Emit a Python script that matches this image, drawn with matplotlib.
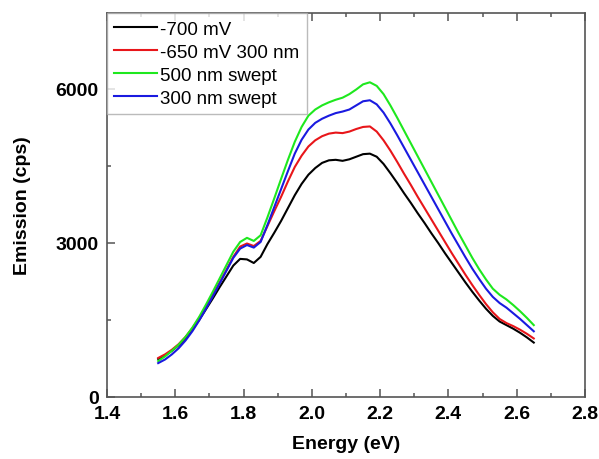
import numpy as np
import matplotlib.pyplot as plt
from matplotlib.ticker import MultipleLocator

plt.rcParams['font.family'] = ['Liberation Sans', 'DejaVu Sans']

# energy grid (eV)
energy = np.round(np.arange(1.55, 2.651, 0.02), 2)

black_700mv = [740, 810, 900, 1010, 1140, 1310, 1500, 1710, 1920, 2140,
               2350, 2560, 2690, 2680, 2610, 2730, 2980, 3200, 3430, 3680,
               3930, 4150, 4330, 4460, 4560, 4610, 4620, 4600, 4630, 4680,
               4730, 4740, 4680, 4540, 4360, 4170, 3970, 3780, 3580, 3390,
               3190, 3000, 2800, 2610, 2420, 2230, 2050, 1880, 1720, 1580,
               1470, 1400, 1330, 1250, 1160, 1060]

red_650mv = [760, 830, 920, 1030, 1170, 1340, 1540, 1760, 1990, 2230,
             2480, 2730, 2930, 2990, 2940, 3040, 3330, 3620, 3900, 4200,
             4480, 4700, 4880, 5000, 5080, 5130, 5150, 5140, 5170, 5220,
             5260, 5270, 5170, 5000, 4800, 4580, 4350, 4130, 3900, 3680,
             3460, 3240, 3020, 2800, 2590, 2380, 2180, 1990, 1810, 1650,
             1520, 1440, 1380, 1310, 1230, 1140]

green_500nm = [700, 790, 900, 1020, 1170, 1350, 1560, 1800, 2050, 2310,
               2570, 2830, 3020, 3100, 3040, 3150, 3500, 3870, 4250, 4620,
               4970, 5260, 5480, 5600, 5680, 5740, 5790, 5830, 5900, 5990,
               6090, 6130, 6060, 5900, 5680, 5440, 5190, 4940, 4690, 4440,
               4190, 3940, 3690, 3440, 3190, 2950, 2710, 2490, 2290, 2110,
               1990, 1900, 1790, 1670, 1540, 1400]

blue_300nm = [660, 730, 830, 950, 1100, 1280, 1490, 1720, 1960, 2210,
              2460, 2710, 2890, 2960, 2910, 3020, 3350, 3700, 4050, 4400,
              4740, 5010, 5210, 5340, 5420, 5480, 5530, 5560, 5600, 5680,
              5760, 5780, 5700, 5540, 5330, 5100, 4860, 4620, 4380, 4140,
              3900, 3660, 3420, 3180, 2950, 2720, 2500, 2300, 2110, 1950,
              1830, 1740, 1630, 1520, 1400, 1280]

labels = ["-700 mV", "-650 mV 300 nm", "500 nm swept", "300 nm swept"]
colors = ["black", "#e8161a", "#1ee81e", "#1a1ae0"]
series = [black_700mv, red_650mv, green_500nm, blue_300nm]

fig = plt.figure(figsize=(5.99, 4.6), dpi=100)
ax = fig.add_axes([0.1786, 0.1348, 0.798, 0.8348])

for y, c, lab in zip(series, colors, labels):
    ax.plot(energy, y, color=c, lw=1.5, label=lab)

ax.set_xlim(1.4, 2.8)
ax.set_ylim(0, 7480)
ax.xaxis.set_major_locator(MultipleLocator(0.2))
ax.xaxis.set_minor_locator(MultipleLocator(0.1))
ax.yaxis.set_major_locator(MultipleLocator(3000))
ax.yaxis.set_minor_locator(MultipleLocator(1500))
ax.xaxis.set_major_formatter(plt.FuncFormatter(lambda v, p: f"{v:.1f}"))

for s in ax.spines.values():
    s.set_color("#555555")
    s.set_linewidth(1.2)
ax.tick_params(which='both', direction='in', top=True, right=False,
               color="#555555", width=1.1)
ax.tick_params(which='major', length=6, labelsize=14, pad=6)
ax.tick_params(which='minor', length=3)
for t in ax.get_xticklabels() + ax.get_yticklabels():
    t.set_fontweight('bold')

ax.set_xlabel("Energy (eV)", fontsize=14, fontweight='bold', labelpad=9)
ax.set_ylabel("Emission (cps)", fontsize=14, fontweight='bold', labelpad=18)

leg = ax.legend(loc='upper left', fontsize=13.5, frameon=True, fancybox=False,
                borderaxespad=0, borderpad=0.4, handlelength=2.25,
                handletextpad=0.2, labelspacing=0.32)
leg.get_frame().set_edgecolor("#aaaaaa")
leg.get_frame().set_linewidth(1.0)

fig.savefig("out.png", dpi=100)
